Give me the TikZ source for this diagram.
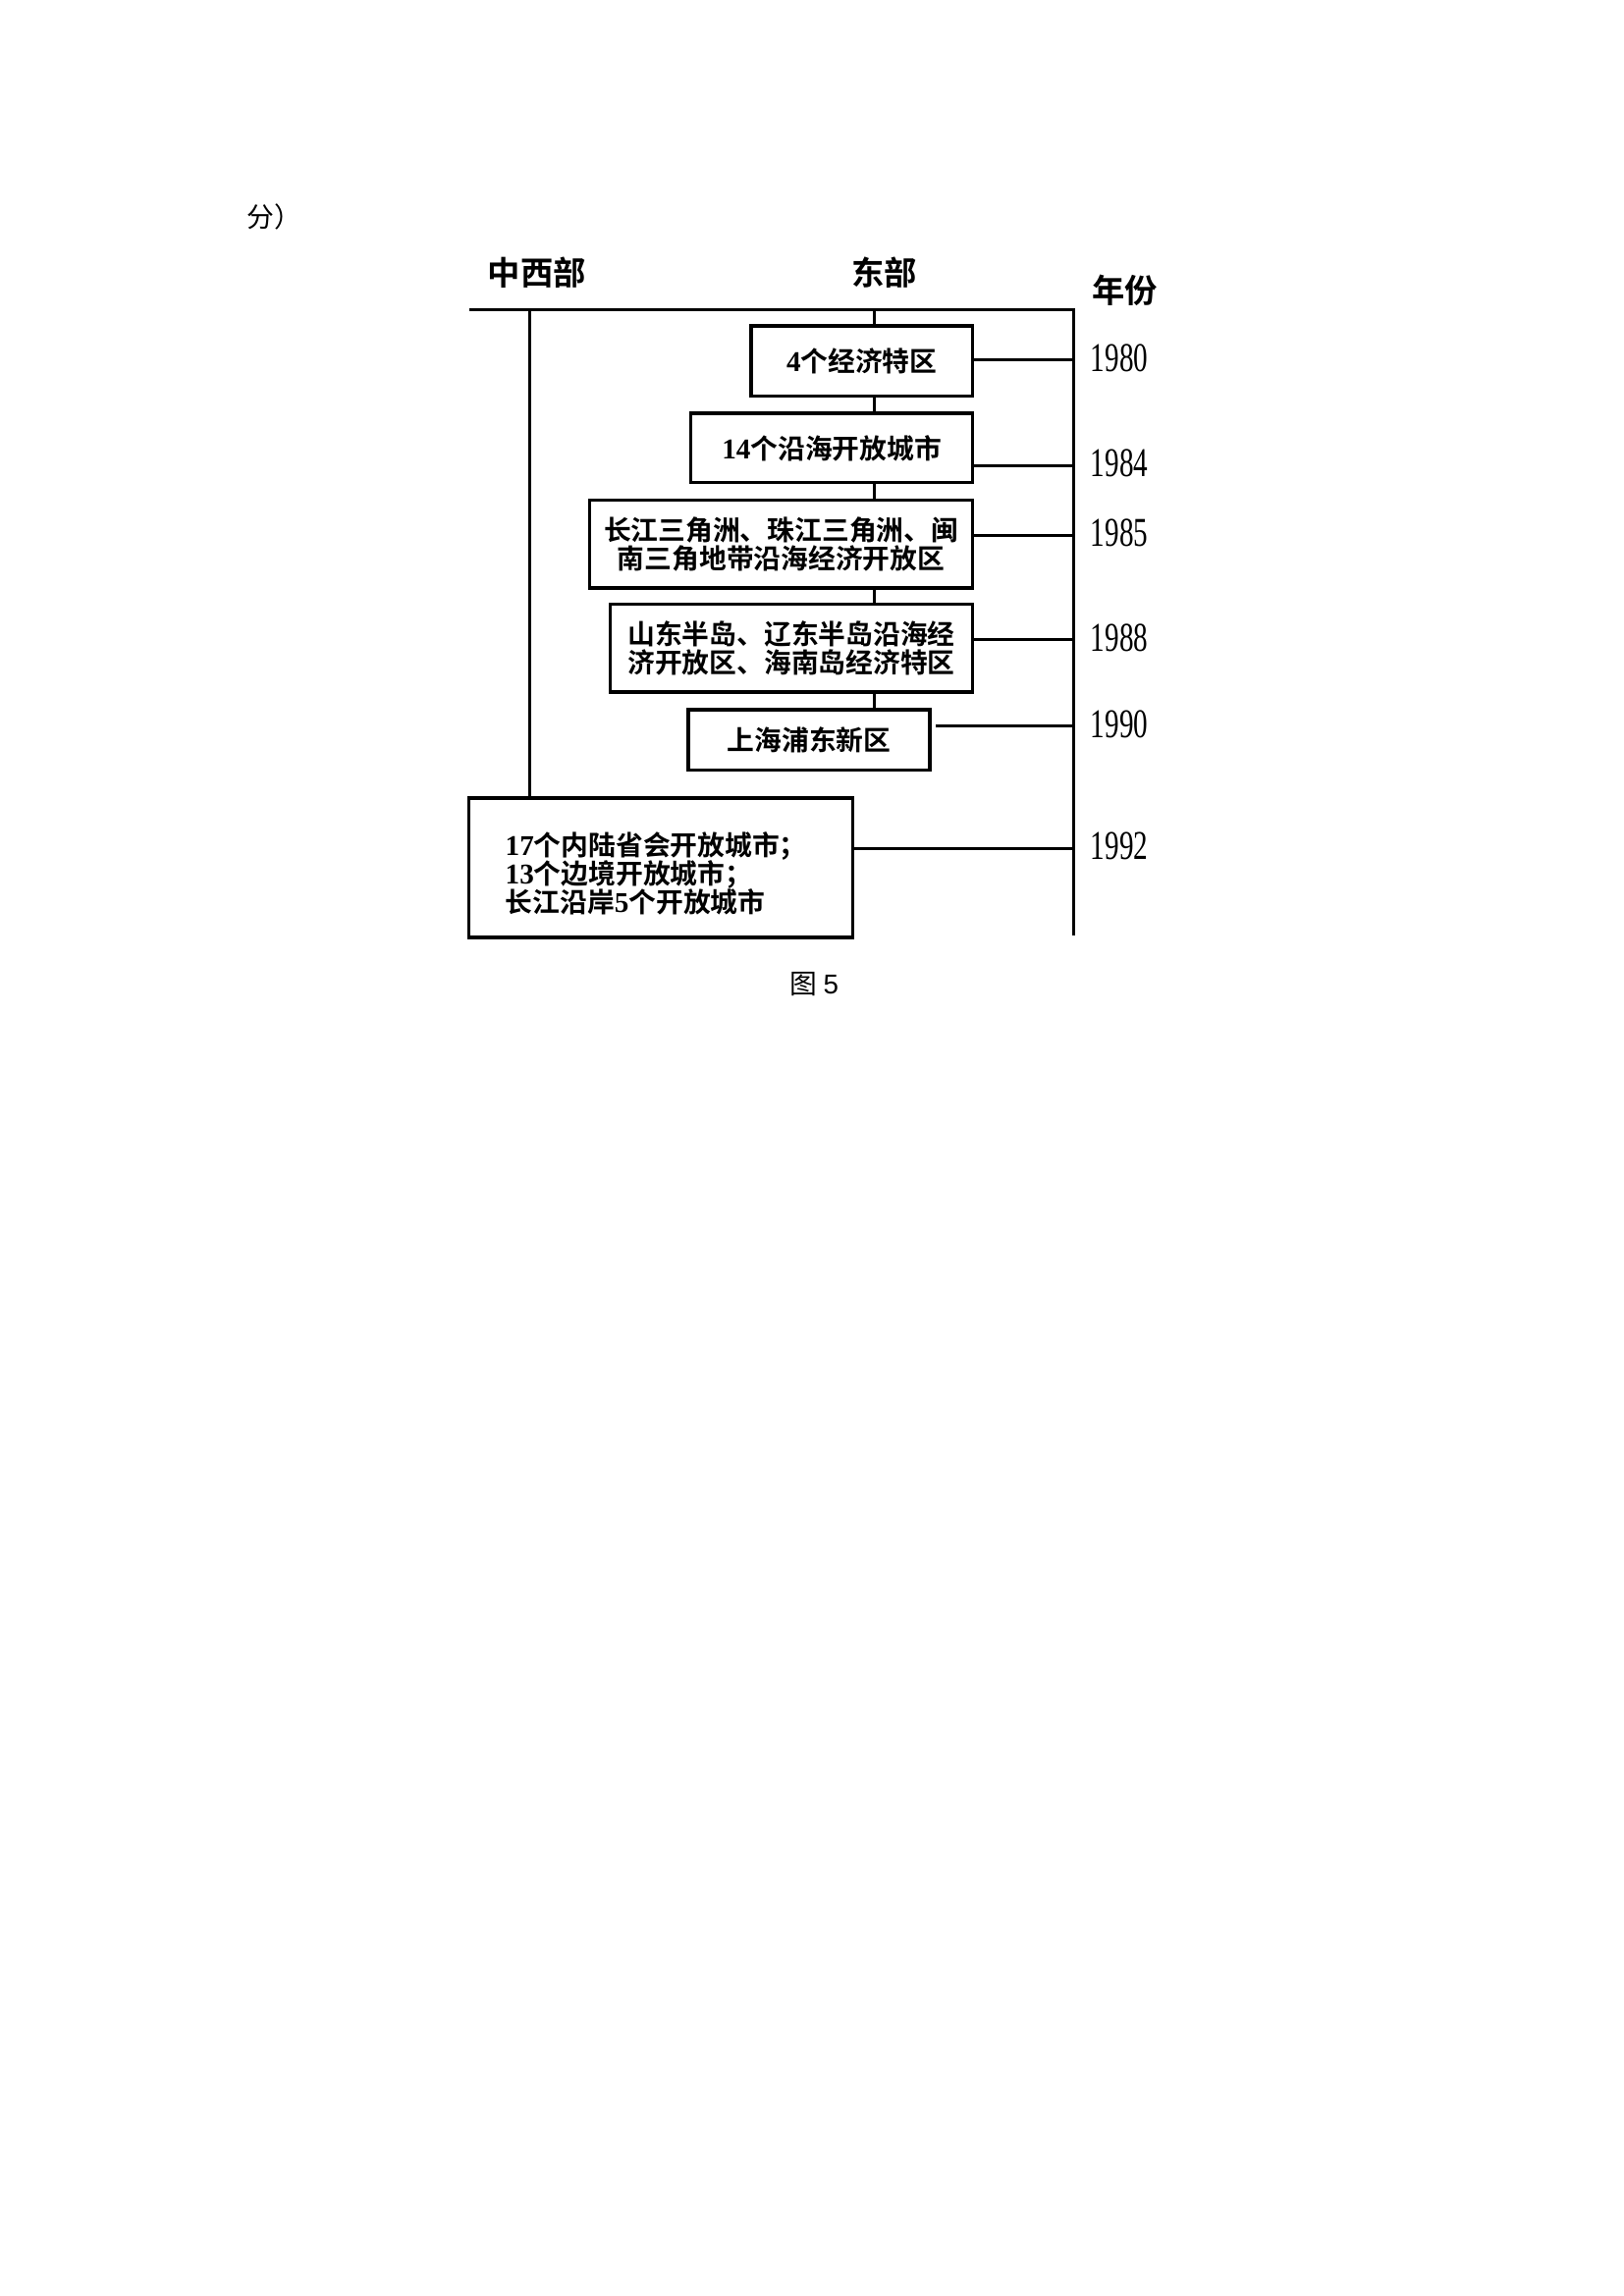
\documentclass[tikz,border=0pt]{standalone}
\usepackage{fontspec}
\newfontfamily\cjkb{Noto Sans CJK SC Bold}
\newfontfamily\cjkr{Noto Sans CJK SC}
\newfontfamily\numf{Liberation Serif}
\newfontfamily\numb{Liberation Serif Bold}
\newcommand\dg[1]{{\numb\fontsize{10.5pt}{10.6pt}\selectfont #1}}
\begin{document}
\begin{tikzpicture}[x=0.5378pt,y=-0.5378pt,
  rule/.style={line width=1.1pt},
  box/.style={draw,line width=1.3pt,fill=white,inner sep=0pt,align=center,
    font=\cjkb\fontsize{10pt}{10.6pt}\selectfont},
  head/.style={font=\cjkb\fontsize{12pt}{12pt}\selectfont,inner sep=0pt},
  year/.style={font=\numf\fontsize{15pt}{15pt}\selectfont,xscale=0.7,inner sep=0pt}]
\useasboundingbox (0,0) rectangle (1107,1565.5);
% headers
\node[font=\cjkr\fontsize{10pt}{10pt}\selectfont,anchor=west,inner sep=0pt] (fen) at (168,148) {分）};
\node[head] (hzx) at (366,186) {中西部};
\node[head] (hdb) at (603,186) {东部};
\node[head] (hyr) at (767,198) {年份};
% frame lines
\coordinate (tl) at (320,211);
\coordinate (tr) at (732,211);
\coordinate (br) at (732,638);
\coordinate (lt) at (361,211);
\coordinate (ct) at (596,211);
% boxes
\node[box,minimum width=81.2pt,minimum height=25.8pt] (b1) at (587.5,246) {\dg{4}个经济特区};
\node[box,minimum width=103.3pt,minimum height=25.3pt] (b2) at (567,305.5) {\dg{14}个沿海开放城市};
\node[box,minimum width=140.4pt,minimum height=32.3pt] (b3) at (532.5,371) {长江三角洲、珠江三角洲、闽\\南三角地带沿海经济开放区};
\node[box,minimum width=132.8pt,minimum height=32.3pt] (b4) at (539.5,442) {山东半岛、辽东半岛沿海经\\济开放区、海南岛经济特区};
\node[box,minimum width=88.7pt,minimum height=22.1pt] (b5) at (551.5,504.5) {上海浦东新区};
\node[box,minimum width=140.4pt,minimum height=51.1pt,text width=114pt,align=left,inner xsep=13.4pt] (b6) at (450.5,591.5) {\rule{0pt}{13pt}\dg{17}个内陆省会开放城市；\\\dg{13}个边境开放城市；\\长江沿岸\dg{5}个开放城市};
% years
\node[year] (y1980) at (763,244) {1980};
\node[year] (y1984) at (763,316) {1984};
\node[year] (y1985) at (763,363) {1985};
\node[year] (y1988) at (763,435) {1988};
\node[year] (y1990) at (763,494) {1990};
\node[year] (y1992) at (763,577) {1992};
% lines
\draw[rule] (tl) -- (tr) -- (br);
\draw[rule] (lt) -- (b6.north -| lt);
\draw[rule] (ct) -- (b1.north -| ct);
\draw[rule] (b1.south -| ct) -- (b2.north -| ct);
\draw[rule] (b2.south -| ct) -- (b3.north -| ct);
\draw[rule] (b3.south -| ct) -- (b4.north -| ct);
\draw[rule] (b4.south -| ct) -- (b5.north -| ct);
\draw[rule] ([yshift=-0.6pt]b1.east |- y1980) -- ([yshift=-0.6pt]y1980 -| br);
\draw[rule] ([yshift=-1pt]b2.east |- y1984) -- ([yshift=-1pt]y1984 -| br);
\draw[rule] ([yshift=-1pt]b3.east |- y1985) -- ([yshift=-1pt]y1985 -| br);
\draw[rule] ([yshift=-0.6pt]b4.east |- y1988) -- ([yshift=-0.6pt]y1988 -| br);
\draw[rule] ([xshift=1.5pt,yshift=-0.6pt]b5.east |- y1990) -- ([yshift=-0.6pt]y1990 -| br);
\draw[rule] ([yshift=-1pt]b6.east |- y1992) -- ([yshift=-1pt]y1992 -| br);
% caption
\node[font=\cjkr\fontsize{10pt}{10pt}\selectfont,inner sep=0pt] (cap) at (555,671) {图 {\fontspec{Liberation Sans}5}};
\end{tikzpicture}
\end{document}
